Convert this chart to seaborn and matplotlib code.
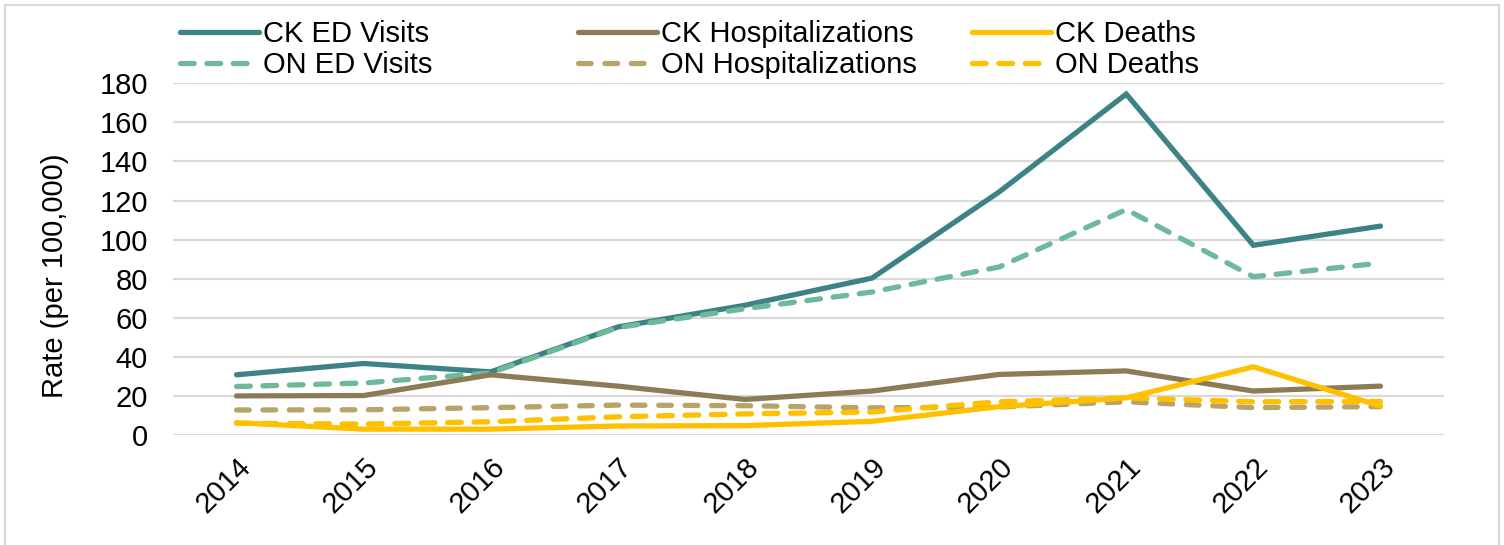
import matplotlib
matplotlib.use("Agg")
import matplotlib.pyplot as plt
from matplotlib.patches import Rectangle
import seaborn as sns
import pandas as pd

# Rate per 100,000 — Chatham-Kent (CK) vs Ontario (ON)
years = [2014, 2015, 2016, 2017, 2018, 2019, 2020, 2021, 2022, 2023]
ck_ed = [30.8, 36.6, 32.3, 55.3, 66.4, 80.3, 124.4, 174.5, 97.1, 106.9]
on_ed = [24.8, 26.6, 31.8, 55.0, 64.6, 73.2, 86.0, 115.4, 81.0, 88.0]
ck_hosp = [20.0, 20.2, 30.8, 25.0, 18.2, 22.5, 31.0, 32.8, 22.5, 25.0]
on_hosp = [12.8, 12.9, 14.0, 15.3, 15.0, 13.9, 14.3, 17.0, 14.0, 14.5]
ck_deaths = [6.3, 3.0, 3.0, 4.6, 4.8, 7.0, 14.5, 19.0, 34.9, 14.8]
on_deaths = [6.0, 5.6, 6.8, 9.3, 10.8, 11.8, 17.0, 19.0, 17.0, 17.2]

series_names = ["CK ED Visits", "ON ED Visits", "CK Hospitalizations",
                "ON Hospitalizations", "CK Deaths", "ON Deaths"]
series_vals = [ck_ed, on_ed, ck_hosp, on_hosp, ck_deaths, on_deaths]

df = pd.DataFrame({
    "Year": years * len(series_names),
    "Rate": [v for vals in series_vals for v in vals],
    "Series": [n for n in series_names for _ in years],
})

palette = {
    "CK ED Visits": "#3d8386",
    "ON ED Visits": "#6db99a",
    "CK Hospitalizations": "#8b7c55",
    "ON Hospitalizations": "#b8a469",
    "CK Deaths": "#ffc000",
    "ON Deaths": "#ffc000",
}
dashes = {
    "CK ED Visits": "",
    "ON ED Visits": (2.6, 2.4),
    "CK Hospitalizations": "",
    "ON Hospitalizations": (2.4, 2.6),
    "CK Deaths": "",
    "ON Deaths": (2.6, 2.4),
}

sns.set_theme(style="white")
plt.rcParams["font.family"] = ["Liberation Sans", "DejaVu Sans"]

fig = plt.figure(figsize=(15.04, 5.45), dpi=100)
ax = fig.add_axes([173 / 1504, 1 - 435 / 545, (1444 - 173) / 1504, (435 - 83.3) / 545])

sns.lineplot(data=df, x="Year", y="Rate", hue="Series", style="Series",
             hue_order=series_names, style_order=series_names,
             palette=palette, dashes=dashes, linewidth=3.8, ax=ax, legend=False)

for line in ax.lines:
    line.set_solid_capstyle("round")
    line.set_dash_capstyle("round")
    line.set_solid_joinstyle("miter")

# axes styling, like the Excel original
ax.set_ylim(0, 180)
ax.set_xlim(2013.5, 2023.5)
ax.set_yticks(range(0, 181, 20))
ax.set_xticks(years)
ax.set_xticklabels([str(y) for y in years], rotation=45, ha="right",
                   rotation_mode="anchor")
ax.tick_params(axis="y", labelsize=21, pad=18, length=0, colors="black")
ax.tick_params(axis="x", labelsize=21, pad=13, length=0, colors="black")
ax.grid(axis="y", color="#d9d9d9", linewidth=1.6)
ax.set_axisbelow(True)
for s in ax.spines.values():
    s.set_visible(False)
ax.set_xlabel("")
ax.set_ylabel("Rate (per 100,000)", fontsize=21, color="black")
ax.yaxis.set_label_coords(-0.082, 0.452)

# legend: three columns of two rows, placed like Excel does
col_x = [180, 578, 972]
for i, x0 in enumerate(col_x):
    pair = series_names[2 * i:2 * i + 2]
    hs = []
    for name in pair:
        h = plt.Line2D([], [], color=palette[name], linewidth=3.8,
                       dashes=dashes[name] if dashes[name] else (None, None),
                       solid_capstyle="round", dash_capstyle="round")
        hs.append(h)
    leg = fig.legend(hs, pair, loc="upper left",
                     bbox_to_anchor=(x0 / 1504, 1 - 20 / 545),
                     frameon=False, fontsize=21, handlelength=2.7,
                     handletextpad=0.15, labelspacing=0.1, borderpad=0,
                     borderaxespad=0)
    for t in leg.get_texts():
        t.set_color("black")

# light grey frame around the chart area
fig.patches.append(Rectangle((5 / 1504, -0.01), 1494 / 1504, 1.01 - 5 / 545,
                             transform=fig.transFigure, fill=False,
                             edgecolor="#d9d9d9", linewidth=1.5))

fig.savefig("out.png", dpi=100, facecolor="white")
plt.close(fig)
